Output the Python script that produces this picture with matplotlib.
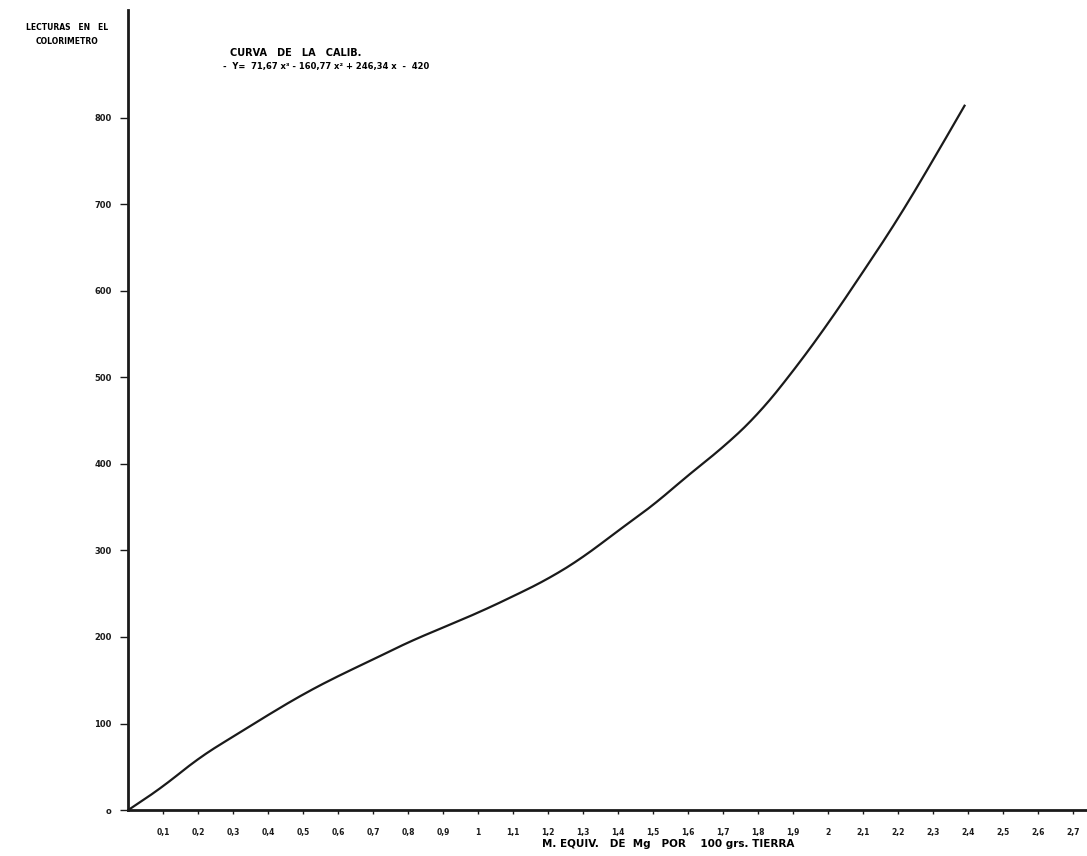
import matplotlib
matplotlib.use("Agg")
import matplotlib.pyplot as plt
import numpy as np

# calibration curve: colorimeter readings vs meq of Mg per 100 g of soil
meq_mg = [0.0, 0.1, 0.2, 0.3, 0.4, 0.5, 0.6, 0.7, 0.8, 0.9, 1.0, 1.1, 1.2,
          1.3, 1.4, 1.5, 1.6, 1.7, 1.8, 1.9, 2.0, 2.1, 2.2, 2.3, 2.39]
lecturas = [0, 27, 60, 85, 110, 134, 155, 174, 194, 211, 228, 247, 267,
            292, 323, 352, 387, 419, 457, 507, 562, 622, 683, 751, 814]

x_ticks = [round(0.1 * i, 1) for i in range(1, 28)]
x_tick_labels = [("%g" % v).replace(".", ",") for v in x_ticks]
y_ticks = [0, 100, 200, 300, 400, 500, 600, 700, 800]
y_tick_labels = ["o", "100", "200", "300", "400", "500", "600", "700", "800"]

fig = plt.figure(figsize=(10.87, 8.56), dpi=100)
ax = fig.add_axes([0.118, 0.0537, 0.882, 0.935])

# smooth the hand-drawn curve a little between the read points
xs = np.linspace(meq_mg[0], meq_mg[-1], 400)
ys = np.interp(xs, meq_mg, lecturas)
k = 9
padded = np.pad(ys, k, mode="reflect", reflect_type="odd")
ys_s = np.convolve(padded, np.ones(2 * k + 1) / (2 * k + 1), mode="same")[k:-k]
ax.plot(xs, ys_s, color="#1a1a1a", linewidth=1.6)

ax.set_xlim(0, 2.74)
ax.set_ylim(0, 925)

for side in ("top", "right"):
    ax.spines[side].set_visible(False)
for side in ("left", "bottom"):
    ax.spines[side].set_linewidth(2.0)
    ax.spines[side].set_color("#1a1a1a")

ax.set_xticks(x_ticks)
ax.set_xticklabels(x_tick_labels, fontsize=5.5, fontweight="bold")
ax.set_yticks(y_ticks)
ax.set_yticklabels(y_tick_labels, fontsize=6, fontweight="bold")
ax.tick_params(axis="x", direction="out", length=3, width=1, pad=10, colors="#1a1a1a")
ax.tick_params(axis="y", direction="out", length=6, width=1, pad=6, colors="#1a1a1a")

fig.text(0.062, 0.968, "LECTURAS   EN   EL", fontsize=5.5, fontweight="bold",
         ha="center", va="center")
fig.text(0.062, 0.951, "COLORIMETRO", fontsize=5.5, fontweight="bold",
         ha="center", va="center")

fig.text(0.212, 0.938, "CURVA   DE   LA   CALIB.", fontsize=7, fontweight="bold",
         ha="left", va="center")
fig.text(0.205, 0.922, "-  Y=  71,67 x³ - 160,77 x² + 246,34 x  -  420", fontsize=6,
         fontweight="bold", ha="left", va="center")

fig.text(0.615, 0.008, "M. EQUIV.   DE  Mg   POR    100 grs. TIERRA", fontsize=7.5,
         fontweight="bold", ha="center", va="bottom")

fig.savefig("out.png", dpi=100, facecolor="white")
